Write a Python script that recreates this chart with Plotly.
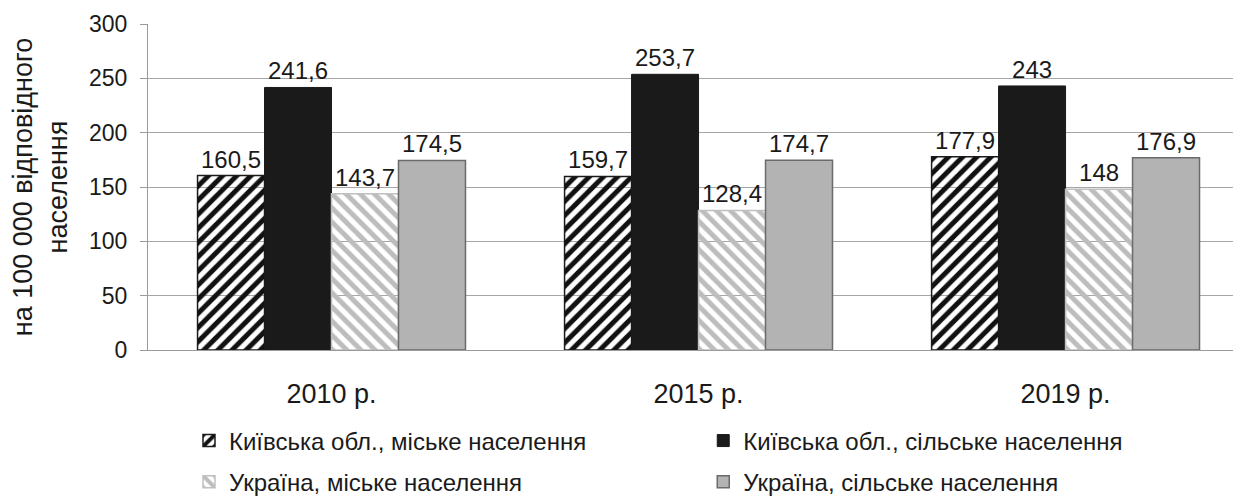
import plotly.graph_objects as go

categories = ["2010 р.", "2015 р.", "2019 р."]
series_names = [
    "Київська обл., міське населення",
    "Київська обл., сільське населення",
    "Україна, міське населення",
    "Україна, сільське населення",
]
kyiv_urban = [160.5, 159.7, 177.9]
kyiv_rural = [241.6, 253.7, 243]
ukr_urban = [143.7, 128.4, 148]
ukr_rural = [174.5, 174.7, 176.9]
y_ticks = [0, 50, 100, 150, 200, 250, 300]
y_title = "на 100 000 відповідного<br>населення"

FONT = "Liberation Sans, Arial, sans-serif"
TXT = "#1a1a1a"


def fmt(v):
    return ("%g" % v).replace(".", ",")


styles = [
    dict(color="white", line=dict(color="#1a1a1a", width=1.5),
         pattern=dict(shape="/", fgcolor="#111111", fgopacity=1,
                      size=10, solidity=0.5, fillmode="replace")),
    dict(color="#1a1a1a", line=dict(color="#1a1a1a", width=1)),
    dict(color="white", line=dict(color="#c0c0c0", width=1.5),
         pattern=dict(shape="\\", fgcolor="#bdbdbd", fgopacity=1,
                      size=10, solidity=0.5, fillmode="replace")),
    dict(color="#b3b3b3", line=dict(color="#6b6b6b", width=1.5)),
]
legend_ids = ["legend", "legend2", "legend3", "legend4"]
legend_pos = [(0.0375, -0.279), (0.508, -0.279), (0.0375, -0.405), (0.508, -0.405)]

fig = go.Figure()
for name, vals, mk, lid in zip(series_names, [kyiv_urban, kyiv_rural, ukr_urban, ukr_rural], styles, legend_ids):
    fig.add_trace(go.Bar(
        x=categories, y=vals, name=name,
        text=[fmt(v) for v in vals], textposition="outside",
        textfont=dict(family=FONT, size=24, color=TXT),
        cliponaxis=False, marker=mk, legend=lid,
    ))

legend_font = dict(family=FONT, size=24, color=TXT)
layout_legends = {}
for lid, (lx, ly) in zip(legend_ids, legend_pos):
    layout_legends[lid] = dict(orientation="h", x=lx, y=ly, xanchor="left", yanchor="middle",
                               font=legend_font, itemwidth=30, bgcolor="rgba(0,0,0,0)")

# page body has an 8px default margin: size the figure so it fits the 1241x497 window
fig.update_layout(
    width=1233, height=489,
    margin=dict(l=140, r=0, t=16, b=147, autoexpand=False),
    paper_bgcolor="white", plot_bgcolor="white",
    barmode="group", bargap=0.27, bargroupgap=0,
    font=dict(family=FONT, color=TXT),
    showlegend=True,
    xaxis=dict(range=[-0.5, 2.478], showgrid=False, showline=True, automargin=False,
               linecolor="#9a9a9a", linewidth=1, ticks="",
               tickfont=dict(family=FONT, size=27, color=TXT),
               ticklabelstandoff=20),
    yaxis=dict(range=[0, 300], tickvals=y_ticks, showgrid=True, automargin=False,
               gridcolor="#a6a6a6", gridwidth=1, zeroline=False,
               showline=True, linecolor="#9a9a9a", linewidth=1,
               ticks="outside", ticklen=7, tickcolor="#9a9a9a",
               tickfont=dict(family=FONT, size=23, color=TXT),
               ticklabelstandoff=8,
               title=dict(text=y_title, font=dict(family=FONT, size=27, color=TXT),
                          standoff=14)),
    **layout_legends,
)

fig.write_html("out.html")
